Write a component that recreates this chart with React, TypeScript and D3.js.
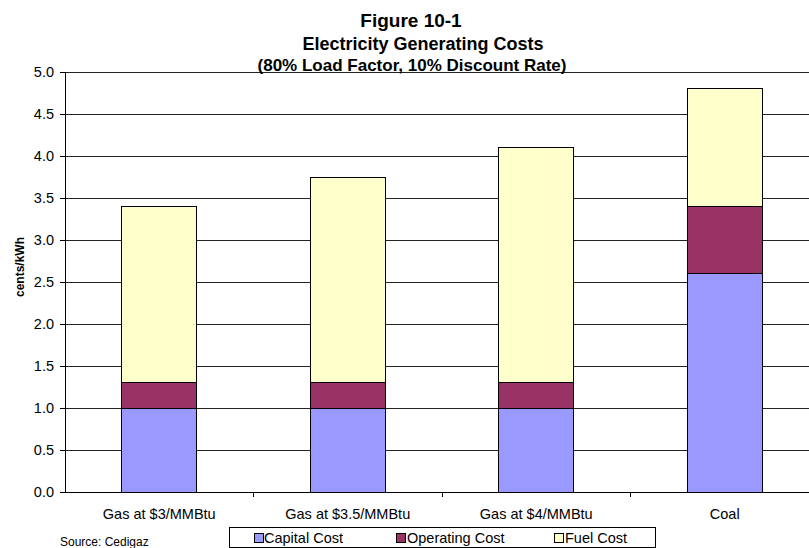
import React from "react";
import * as d3 from "d3";

const categories = ["Gas at $3/MMBtu", "Gas at $3.5/MMBtu", "Gas at $4/MMBtu", "Coal"];
const seriesNames = ["Capital Cost", "Operating Cost", "Fuel Cost"];
const capitalCost = [1.0, 1.0, 1.0, 2.6];
const operatingCost = [0.3, 0.3, 0.3, 0.8];
const fuelCost = [2.1, 2.45, 2.8, 1.4];
const yTicks = [0, 0.5, 1.0, 1.5, 2.0, 2.5, 3.0, 3.5, 4.0, 4.5, 5.0];
const colors = ["#9999FF", "#993366", "#FFFFCC"];

const W = 809;
const H = 548;
const left = 65;
const right = 819;
const top = 72;
const bottom = 492;
const FONT = "'Liberation Sans', Arial, sans-serif";

export default function App() {
  const x = d3.scaleBand().domain(categories).range([left, right]).paddingInner(0).paddingOuter(0);
  const y = d3.scaleLinear().domain([0, 5]).range([bottom, top]);
  const rows = categories.map((c, i) => ({
    cat: c,
    s0: capitalCost[i],
    s1: operatingCost[i],
    s2: fuelCost[i],
  }));
  const stack = d3.stack<any>().keys(["s0", "s1", "s2"])(rows);
  const bw = x.bandwidth() * 0.4;

  const legendItems = [
    { name: seriesNames[0], sx: 254, tx: 264 },
    { name: seriesNames[1], sx: 396, tx: 407 },
    { name: seriesNames[2], sx: 554, tx: 565 },
  ];

  return (
    <svg width={W} height={H} style={{ position: "absolute", left: 0, top: 0, background: "#fff" }} fontFamily={FONT}>
      <rect x={0} y={0} width={W} height={H} fill="#fff" />
      {/* gridlines */}
      {yTicks.filter((t) => t > 0).map((t) => (
        <line key={t} x1={left} x2={W} y1={y(t)} y2={y(t)} stroke="#222" strokeWidth={1} shapeRendering="crispEdges" />
      ))}
      {/* bars */}
      {stack.map((layer, li) =>
        layer.map((d, i) => {
          const cx = (x(categories[i]) as number) + x.bandwidth() / 2;
          return (
            <rect
              key={li + "-" + i}
              x={cx - bw / 2}
              y={y(d[1])}
              width={bw}
              height={y(d[0]) - y(d[1])}
              fill={colors[li]}
              stroke="#000"
              strokeWidth={1}
              shapeRendering="crispEdges"
            />
          );
        })
      )}
      {/* axes */}
      <line x1={left} x2={left} y1={top} y2={bottom} stroke="#000" shapeRendering="crispEdges" />
      <line x1={left} x2={W} y1={bottom} y2={bottom} stroke="#000" shapeRendering="crispEdges" />
      {yTicks.map((t) => (
        <g key={"yt" + t}>
          <line x1={left - 5} x2={left} y1={y(t)} y2={y(t)} stroke="#000" shapeRendering="crispEdges" />
          <text x={54} y={y(t)} dy="0.35em" textAnchor="end" fontSize={14.5} fill="#000">
            {t.toFixed(1)}
          </text>
        </g>
      ))}
      {categories.map((c, i) => (
        <g key={"xt" + c}>
          {i > 0 && (
            <line x1={x(c) as number} x2={x(c) as number} y1={bottom} y2={bottom + 5} stroke="#000" shapeRendering="crispEdges" />
          )}
          <text x={(x(c) as number) + x.bandwidth() / 2} y={519} textAnchor="middle" fontSize={14.5} fill="#000">
            {c}
          </text>
        </g>
      ))}
      {/* y label */}
      <text transform={`translate(24,${(top + bottom) / 2 - 15}) rotate(-90)`} textAnchor="middle" fontSize={12} fontWeight="bold">
        cents/kWh
      </text>
      {/* titles */}
      <text x={411} y={27} textAnchor="middle" fontSize={19} fontWeight="bold">Figure 10-1</text>
      <text x={423} y={50} textAnchor="middle" fontSize={18} fontWeight="bold">Electricity Generating Costs</text>
      <text x={412} y={71} textAnchor="middle" fontSize={17} fontWeight="bold">(80% Load Factor, 10% Discount Rate)</text>
      {/* legend */}
      <rect x={229.5} y={527.5} width={426} height={20} fill="#fff" stroke="#000" />
      {legendItems.map((l, i) => (
        <g key={l.name}>
          <rect x={l.sx + 0.5} y={533.5} width={9} height={9} fill={colors[i]} stroke="#000" />
          <text x={l.tx} y={543} fontSize={14.5}>{l.name}</text>
        </g>
      ))}
      {/* source */}
      <text x={60} y={546} fontSize={12}>Source: Cedigaz</text>
    </svg>
  );
}
